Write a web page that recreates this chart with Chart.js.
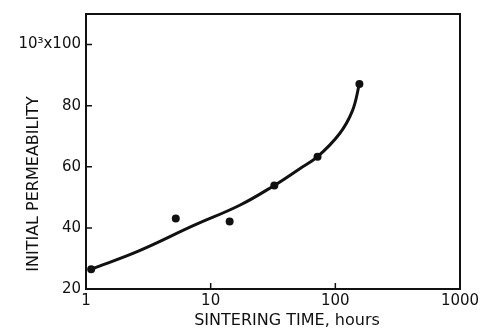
<!DOCTYPE html>
<html>
<head>
<meta charset="utf-8">
<script src="https://cdn.jsdelivr.net/npm/chart.js@4/dist/chart.umd.min.js"></script>
<style>
html,body{margin:0;padding:0;background:#fff;}
#wrap{width:489px;height:328px;position:relative;}
</style>
</head>
<body>
<div id="wrap"><canvas id="c" width="489" height="328"></canvas></div>
<script>
// Measured data points
const pointHours = [1.1, 5.25, 14.2, 32.4, 72, 156];
const pointPerm  = [26.5, 43.1, 42.1, 53.9, 63.3, 87.1];
// Hand-drawn fitted curve
const curveHours = [1.1, 2.6, 7.32, 17.1, 32.4, 51.5, 72, 108, 137, 156];
const curvePerm  = [26.5, 32.3, 40.8, 47.4, 53.9, 59.3, 63.3, 70.8, 78.3, 87.1];
// Tick labels
const xTicks = [1, 10, 100, 1000];
const yTicks = [20, 40, 60, 80, 100];
const yTickLabels = ['20', '40', '60', '80', '10\u00B3x100'];
const xTitle = 'SINTERING TIME, hours';
const yTitle = 'INITIAL PERMEABILITY';

const FONT = '"DejaVu Sans", sans-serif';
const INK = '#111';

const frameAndTicks = {
  id: 'frameAndTicks',
  afterDraw(chart) {
    const {ctx, chartArea: a, scales} = chart;
    ctx.save();
    ctx.strokeStyle = INK;
    ctx.lineWidth = 2;
    ctx.strokeRect(a.left, a.top, a.right - a.left, a.bottom - a.top);
    ctx.lineWidth = 1.5;
    ctx.beginPath();
    xTicks.forEach(v => {
      const px = scales.x.getPixelForValue(v);
      ctx.moveTo(px, a.bottom);
      ctx.lineTo(px, a.bottom - 6);
    });
    yTicks.forEach(v => {
      const py = scales.y.getPixelForValue(v);
      ctx.moveTo(a.left, py);
      ctx.lineTo(a.left + 6, py);
    });
    ctx.stroke();
    // axis titles
    ctx.fillStyle = INK;
    ctx.font = '16px ' + FONT;
    ctx.textAlign = 'center';
    ctx.textBaseline = 'middle';
    ctx.fillText(xTitle, 287, 321);
    ctx.translate(34, 184);
    ctx.rotate(-Math.PI / 2);
    ctx.fillText(yTitle, 0, 0);
    ctx.restore();
  }
};

new Chart(document.getElementById('c'), {
  type: 'scatter',
  data: {
    datasets: [
      {
        label: 'curve',
        data: curveHours.map((x, i) => ({x, y: curvePerm[i]})),
        showLine: true,
        borderColor: INK,
        borderWidth: 3,
        pointRadius: 0,
        tension: 0.4,
        fill: false
      },
      {
        label: 'measured',
        data: pointHours.map((x, i) => ({x, y: pointPerm[i]})),
        showLine: false,
        backgroundColor: INK,
        borderColor: INK,
        pointRadius: 4,
        pointBorderWidth: 0
      }
    ]
  },
  options: {
    responsive: false,
    animation: false,
    layout: {padding: {top: 13, right: 29, left: 0, bottom: 0}},
    plugins: {legend: {display: false}, tooltip: {enabled: false}},
    scales: {
      x: {
        type: 'logarithmic',
        min: 1, max: 1000,
        grid: {display: false, drawTicks: false},
        border: {display: false},
        afterBuildTicks: s => { s.ticks = xTicks.map(v => ({value: v})); },
        afterFit: s => { s.height = 39; },
        ticks: {
          color: INK,
          font: {family: FONT, size: 15},
          padding: 3,
          maxRotation: 0,
          autoSkip: false,
          callback: v => String(v)
        }
      },
      y: {
        type: 'linear',
        min: 20, max: 110,
        grid: {display: false, drawTicks: false},
        border: {display: false},
        afterBuildTicks: s => { s.ticks = yTicks.map(v => ({value: v})); },
        afterFit: s => { s.width = 86; },
        ticks: {
          color: INK,
          font: {family: FONT, size: 15},
          padding: 5,
          autoSkip: false,
          callback: v => yTickLabels[yTicks.indexOf(v)]
        }
      }
    }
  },
  plugins: [frameAndTicks]
});
</script>
</body>
</html>
